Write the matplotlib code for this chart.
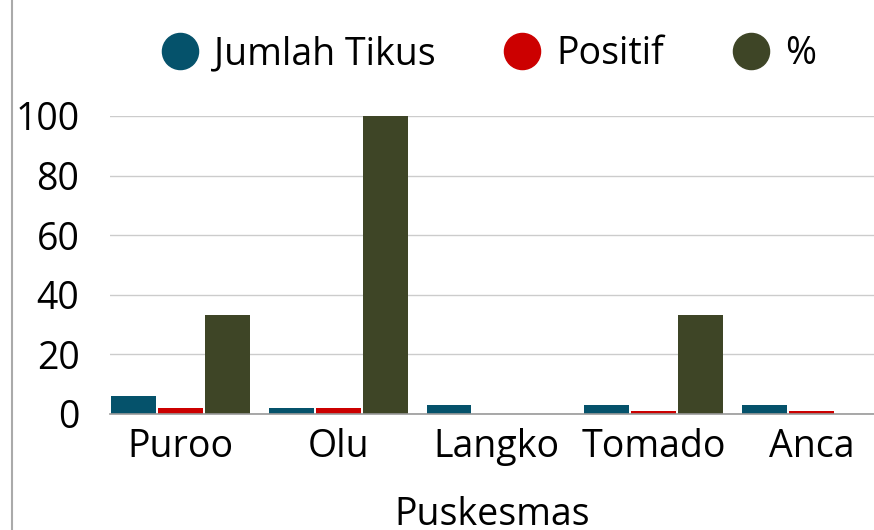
import numpy as np
import matplotlib
matplotlib.use("Agg")
import matplotlib.pyplot as plt
from matplotlib.lines import Line2D

kategori = ["Puroo", "Olu", "Langko", "Tomado", "Anca"]
jumlah_tikus = [6, 2, 3, 3, 3]
positif = [2, 2, 0, 1, 1]
persen = [33.33, 100, 0, 33.33, 0]

seri = ["Jumlah Tikus", "Positif", "%"]
warna = ["#05526b", "#cc0000", "#3e4526"]

plt.rcParams["font.family"] = ["Open Sans", "DejaVu Sans"]

fig = plt.figure(figsize=(8.74, 5.30), dpi=100)
ax = fig.add_axes([110 / 874, (530 - 414) / 530, 1 - 110 / 874, 298 / 530])

x = np.arange(len(kategori))
w = 0.285
step = 0.298
for i, (vals, c) in enumerate(zip([jumlah_tikus, positif, persen], warna)):
    ax.bar(x + (i - 1) * step, vals, w, color=c, zorder=3)

ax.set_xlim(-0.447, 4.396)
ax.set_ylim(0, 100)
ax.set_yticks([0, 20, 40, 60, 80, 100])
ax.set_xticks(x)
ax.set_xticklabels(kategori)
ax.tick_params(axis="both", length=0, labelsize=27, colors="black")
ax.tick_params(axis="y", pad=22)
ax.tick_params(axis="x", pad=10)
ax.grid(axis="y", color="#cccccc", lw=1, zorder=0)
for s in ["top", "right", "left"]:
    ax.spines[s].set_visible(False)
ax.spines["bottom"].set_color("#999999")
ax.spines["bottom"].set_linewidth(1.2)
ax.spines["bottom"].set_zorder(4)
ax.set_xlabel("Puskesmas", fontsize=27, labelpad=22)

handles = [Line2D([], [], marker="o", ls="none", markersize=26, color=c) for c in warna]
fig.legend(handles, seri, loc="center", bbox_to_anchor=(0.559, 0.898), ncol=3,
           frameon=False, fontsize=27, handlelength=1.0, handletextpad=0.42,
           columnspacing=1.8)

# garis tepi kiri (tepi jendela)
fig.add_artist(Line2D([12 / 874, 12 / 874], [0, 1], color="#aaaaaa", lw=1.5))

fig.savefig("out.png", dpi=100)
